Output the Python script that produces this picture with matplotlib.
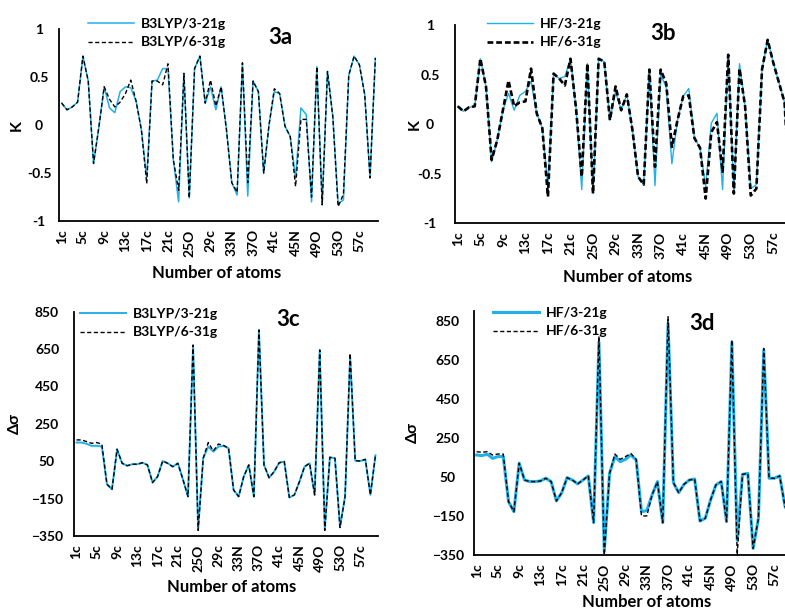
import numpy as np
import matplotlib
matplotlib.use('Agg')
import matplotlib.pyplot as plt

plt.rcParams['font.family'] = ['Lato', 'DejaVu Sans']
plt.rcParams['font.weight'] = 'bold'

# atom labels shown on the x axis (every 4th atom)
atom_labels = ['1c', '5c', '9c', '13c', '17c', '21c', '25O', '29c', '33N',
               '37O', '41c', '45N', '49O', '53O', '57c']
n_atoms = 60

# 3a: K, B3LYP
k_b3lyp_321 = [0.23, 0.16, 0.19, 0.24, 0.72, 0.46, -0.40, -0.02, 0.40, 0.18,
               0.13, 0.35, 0.40, 0.39, 0.25, -0.05, -0.55, 0.46, 0.47, 0.59,
               0.59, -0.36, -0.80, 0.54, -0.76, 0.59, 0.72, 0.23, 0.40, 0.16,
               0.40, -0.05, -0.60, -0.73, 0.65, -0.74, 0.46, 0.35, -0.50, 0.00,
               0.35, 0.33, -0.01, -0.12, -0.55, 0.18, 0.11, -0.80, 0.61, -0.83,
               0.56, 0.09, -0.82, -0.78, 0.52, 0.72, 0.63, 0.32, -0.55, 0.70]
k_b3lyp_631 = [0.23, 0.16, 0.19, 0.24, 0.72, 0.46, -0.40, -0.02, 0.40, 0.27,
               0.19, 0.24, 0.33, 0.47, 0.25, -0.05, -0.61, 0.46, 0.46, 0.42,
               0.64, -0.36, -0.68, 0.54, -0.76, 0.59, 0.72, 0.23, 0.47, 0.20,
               0.40, -0.05, -0.60, -0.70, 0.65, -0.60, 0.46, 0.35, -0.50, 0.00,
               0.38, 0.33, -0.01, -0.12, -0.64, 0.06, 0.06, -0.75, 0.61, -0.83,
               0.56, 0.09, -0.85, -0.72, 0.52, 0.72, 0.63, 0.32, -0.55, 0.70]

# 3b: K, HF
k_hf_321 = [0.18, 0.13, 0.17, 0.18, 0.66, 0.38, -0.38, -0.16, 0.14, 0.31,
            0.14, 0.29, 0.33, 0.43, 0.11, -0.04, -0.63, 0.51, 0.46, 0.48,
            0.66, 0.15, -0.66, 0.61, -0.70, 0.66, 0.63, 0.04, 0.33, 0.14,
            0.30, -0.06, -0.53, -0.61, 0.55, -0.62, 0.50, 0.37, -0.40, 0.04,
            0.28, 0.36, -0.14, -0.24, -0.63, 0.01, 0.11, -0.66, 0.70, -0.70,
            0.61, 0.18, -0.65, -0.61, 0.55, 0.85, 0.62, 0.42, 0.22, -0.80]
k_hf_631 = [0.18, 0.13, 0.17, 0.18, 0.66, 0.38, -0.36, -0.16, 0.14, 0.44,
            0.18, 0.22, 0.23, 0.56, 0.11, -0.04, -0.73, 0.51, 0.46, 0.39,
            0.66, 0.15, -0.53, 0.61, -0.70, 0.66, 0.63, 0.04, 0.38, 0.14,
            0.30, -0.06, -0.53, -0.61, 0.55, -0.43, 0.55, 0.41, -0.23, 0.04,
            0.28, 0.29, -0.14, -0.24, -0.75, -0.08, 0.02, -0.48, 0.70, -0.70,
            0.56, 0.18, -0.72, -0.65, 0.55, 0.85, 0.62, 0.42, 0.22, -0.80]

# 3c: delta sigma, B3LYP
ds_b3lyp_321 = [150, 150, 143, 132, 133, 128, -73, -100, 114, 39,
                26, 34, 34, 42, 30, -64, -32, 51, 39, 21,
                39, -47, -139, 668, -314, 66, 128, 101, 128, 132,
                120, -104, -139, -32, 30, -139, 752, 30, -38, -6,
                42, 48, -144, -130, -59, 21, 39, -130, 645, -314,
                71, 66, -300, -139, 610, 53, 51, 60, -130, 82]
ds_b3lyp_631 = [164, 164, 155, 146, 150, 141, -73, -100, 114, 39,
                26, 34, 34, 42, 30, -64, -32, 51, 39, 21,
                39, -47, -139, 672, -320, 66, 150, 105, 142, 135,
                120, -104, -139, -32, 30, -139, 752, 30, -38, -6,
                42, 48, -144, -130, -59, 21, 39, -130, 645, -320,
                71, 66, -305, -139, 627, 53, 51, 60, -130, 82]

# 3d: delta sigma, HF
ds_hf_321 = [162, 159, 166, 145, 154, 154, -77, -128, 120, 34,
             26, 26, 29, 43, 26, -73, -31, 46, 34, 14,
             34, 55, -184, 740, -330, 68, 154, 128, 140, 162,
             137, -128, -123, -42, 26, -184, 836, 21, -31, 12,
             34, 39, -176, -162, -68, 9, 26, -179, 740, -273,
             63, 68, -316, -162, 700, 43, 43, 55, -102, -150]
ds_hf_631 = [179, 176, 179, 162, 167, 167, -77, -128, 120, 34,
             26, 26, 29, 43, 26, -73, -31, 46, 34, 14,
             34, 55, -184, 770, -350, 68, 167, 140, 154, 170,
             140, -150, -150, -42, 26, -184, 870, 21, -31, 12,
             34, 39, -176, -162, -68, 9, 26, -179, 751, -350,
             63, 68, -316, -162, 708, 43, 43, 55, -102, -150]

BLUE = '#22b0e8'
W, H = 785, 612


def rect(l, r, t, b):
    return [l / W, 1 - b / H, (r - l) / W, (b - t) / H]


fig = plt.figure(figsize=(W / 100, H / 100), dpi=100)

panels = [
    dict(r=rect(59, 378, 29.3, 221), y1=k_b3lyp_321, y2=k_b3lyp_631,
         names=('B3LYP/3-21g', 'B3LYP/6-31g'), ylim=(-1, 1),
         yticks=[-1, -0.5, 0, 0.5, 1], yfmt=['-1', '-0.5', '0', '0.5', '1'],
         ylabel='K', ylab_x=17, ycen=39, tag='3a', tag_xy=(280, 37),
         leg_xy=(88, 33), xlab_xy=(217, 273), blw=1.1, klw=1.0, kdash=(3, 1.8)),
    dict(r=rect(455, 793, 25, 223.3), y1=k_hf_321, y2=k_hf_631,
         names=('HF/3-21g', 'HF/6-31g'), ylim=(-1, 1),
         yticks=[-1, -0.5, 0, 0.5, 1], yfmt=['-1', '-0.5', '0', '0.5', '1'],
         ylabel='K', ylab_x=415, ycen=430, tag='3b', tag_xy=(663, 33),
         leg_xy=(487, 33), xlab_xy=(628, 277), blw=1.0, klw=1.9, kdash=(2.2, 1.1)),
    dict(r=rect(74, 378, 311.7, 536), y1=ds_b3lyp_321, y2=ds_b3lyp_631,
         names=('B3LYP/3-21g', 'B3LYP/6-31g'), ylim=(-350, 850),
         yticks=[-350, -150, 50, 250, 450, 650, 850], yfmt=None,
         ylabel='Δσ', ylab_x=15, ycen=47, tag='3c', tag_xy=(288, 320),
         leg_xy=(80, 323), xlab_xy=(232, 587), blw=1.4, klw=1.0, kdash=(3, 1.8)),
    dict(r=rect(474, 793, 310.9, 555), y1=ds_hf_321, y2=ds_hf_631,
         names=('HF/3-21g', 'HF/6-31g'), ylim=(-350, 900),
         yticks=[-350, -150, 50, 250, 450, 650, 850], yfmt=None,
         ylabel='Δσ', ylab_x=413, ycen=448, tag='3d', tag_xy=(702, 323),
         leg_xy=(493, 322), xlab_xy=(647, 602), blw=2.2, klw=1.0, kdash=(3, 1.8)),
]

x = np.arange(n_atoms)
for p in panels:
    ax = fig.add_axes(p['r'])
    ax.plot(x, p['y1'], color=BLUE, lw=p['blw'], label=p['names'][0], clip_on=False)
    ax.plot(x, p['y2'], color='black', lw=p['klw'], ls=(0, p['kdash']),
            label=p['names'][1], clip_on=False)
    ax.set_xlim(-0.5, n_atoms - 0.5)
    ax.set_ylim(*p['ylim'])
    ax.set_yticks(p['yticks'])
    if p['yfmt']:
        ax.set_yticklabels(p['yfmt'])
    ax.set_xticks(np.arange(0, n_atoms, 4))
    ax.set_xticklabels(atom_labels, rotation=90)
    ax.spines['top'].set_visible(False)
    ax.spines['right'].set_visible(False)
    for s in ('left', 'bottom'):
        ax.spines[s].set_linewidth(1.3)
    axl = p['r'][0] * W
    ax.tick_params(axis='y', length=0, labelsize=10, pad=(axl - p['ycen']) * 0.72)
    ax.tick_params(axis='x', length=0, labelsize=10, pad=6)
    for t in ax.get_yticklabels():
        t.set_horizontalalignment('center')
        t.set_fontweight('bold')
    for t in ax.get_xticklabels():
        t.set_fontweight('bold')

    # axis titles and panel tag in figure pixel positions
    yc = (1 - p['r'][1] - p['r'][3] / 2) * H
    fig.text(p['ylab_x'] / W, 1 - yc / H, p['ylabel'], rotation=90,
             ha='center', va='center', fontsize=11.5, fontweight='bold')
    fig.text(p['xlab_xy'][0] / W, 1 - p['xlab_xy'][1] / H, 'Number of atoms',
             ha='center', va='center', fontsize=12, fontweight='bold')
    fig.text(p['tag_xy'][0] / W, 1 - p['tag_xy'][1] / H, p['tag'],
             ha='center', va='center', fontsize=16, fontweight='bold')
    ax.legend(loc='center left',
              bbox_to_anchor=(p['leg_xy'][0] / W, 1 - p['leg_xy'][1] / H),
              bbox_transform=fig.transFigure, frameon=False,
              borderpad=0, borderaxespad=0, handlelength=3.3,
              handletextpad=0.5, labelspacing=0.5,
              prop=dict(weight='bold', size=10))

fig.savefig('out.png', dpi=100)
